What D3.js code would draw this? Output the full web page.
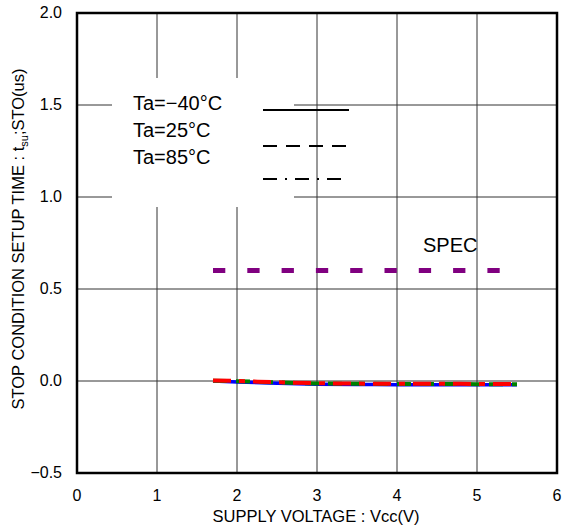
<!DOCTYPE html>
<html>
<head>
<meta charset="utf-8">
<script src="https://cdn.jsdelivr.net/npm/d3@7"></script>
<style>
  body { margin: 0; background: #fff; }
  text { font-family: "Liberation Sans", Arial, sans-serif; fill: #000; }
</style>
</head>
<body>
<div id="chart"></div>
<script>
'use strict'

// supply voltage points (V)
const vcc = [1.7, 2.0, 2.5, 3.0, 3.5, 4.0, 4.5, 5.0, 5.5]
// tsu;STO (us) per temperature
const tBlue = [0.0, -0.005, -0.012, -0.017, -0.019, -0.020, -0.020, -0.020, -0.021]
const tGreen = [0.002, -0.001, -0.008, -0.013, -0.015, -0.016, -0.016, -0.017, -0.018]
const tRed = [0.003, 0.0, -0.007, -0.012, -0.014, -0.015, -0.015, -0.016, -0.017]
const specX = [1.7, 5.5]
const specY = [0.6, 0.6]

const xTicks = [0, 1, 2, 3, 4, 5, 6]
const yTicks = [-0.5, 0, 0.5, 1.0, 1.5, 2.0]
const legendLabels = ['Ta=\u221240\u00b0C', 'Ta=25\u00b0C', 'Ta=85\u00b0C']
const legendDash = [null, '14,9', '14,8,2,8']

const width = 563, height = 529
const margin = { left: 77, right: 6, top: 13, bottom: 56 }

const svg = d3.select('#chart').append('svg')
    .attr('width', width)
    .attr('height', height)

const x = d3.scaleLinear().domain([0, 6]).range([margin.left, width - margin.right])
const y = d3.scaleLinear().domain([-0.5, 2.0]).range([height - margin.bottom, margin.top])

// grid
svg.append('g')
    .selectAll('line')
    .data(xTicks.slice(1, -1))
    .join('line')
    .attr('x1', d => x(d)).attr('x2', d => x(d))
    .attr('y1', y(2.0)).attr('y2', y(-0.5))
    .attr('stroke', '#333').attr('stroke-width', 1)

svg.append('g')
    .selectAll('line')
    .data(yTicks.slice(1, -1))
    .join('line')
    .attr('x1', x(0)).attr('x2', x(6))
    .attr('y1', d => y(d)).attr('y2', d => y(d))
    .attr('stroke', '#333').attr('stroke-width', 1)

// legend backdrop hides the grid behind it
svg.append('rect')
    .attr('x', 112).attr('y', 78)
    .attr('width', 182).attr('height', 129)
    .attr('fill', '#fff')

// spec line
const line = d3.line().x(d => x(d[0])).y(d => y(d[1]))
svg.append('path')
    .attr('d', line(d3.zip(specX, specY)))
    .attr('fill', 'none')
    .attr('stroke', '#800080')
    .attr('stroke-width', 5)
    .attr('stroke-dasharray', '12.3,22')

svg.append('text')
    .attr('x', 423).attr('y', 252)
    .style('font-size', '20px')
    .text('SPEC')

// data curves
const curve = d3.line().x(d => x(d[0])).y(d => y(d[1])).curve(d3.curveMonotoneX)
svg.append('path')
    .attr('d', curve(d3.zip(vcc, tBlue)))
    .attr('fill', 'none').attr('stroke', '#0000ff').attr('stroke-width', 3.5)
svg.append('path')
    .attr('d', curve(d3.zip(vcc, tGreen)))
    .attr('fill', 'none').attr('stroke', '#008000').attr('stroke-width', 4)
    .attr('stroke-dasharray', '14,9')
svg.append('path')
    .attr('d', curve(d3.zip(vcc, tRed)))
    .attr('fill', 'none').attr('stroke', '#ff0000').attr('stroke-width', 4)
    .attr('stroke-dasharray', '18,8,6,8')

// legend
const lg = svg.append('g')
lg.selectAll('text')
    .data(legendLabels)
    .join('text')
    .attr('x', 133)
    .attr('y', (d, i) => 110 + i * 27)
    .style('font-size', '20px')
    .text(d => d)

lg.selectAll('line')
    .data(legendDash)
    .join('line')
    .attr('x1', 263).attr('x2', 349)
    .attr('y1', (d, i) => [110, 146, 179][i])
    .attr('y2', (d, i) => [110, 146, 179][i])
    .attr('stroke', '#000').attr('stroke-width', 2)
    .attr('stroke-dasharray', d => d)

// frame
svg.append('rect')
    .attr('x', x(0)).attr('y', y(2.0))
    .attr('width', x(6) - x(0)).attr('height', y(-0.5) - y(2.0))
    .attr('fill', 'none').attr('stroke', '#000').attr('stroke-width', 2.5)

// tick labels
svg.append('g')
    .selectAll('text')
    .data(xTicks)
    .join('text')
    .attr('x', d => x(d))
    .attr('y', 501)
    .attr('text-anchor', 'middle')
    .style('font-size', '16px')
    .text(d => d)

svg.append('g')
    .selectAll('text')
    .data(yTicks)
    .join('text')
    .attr('x', 62)
    .attr('y', d => y(d) + 5)
    .attr('text-anchor', 'end')
    .style('font-size', '16px')
    .text(d => d3.format('.1f')(d).replace('-', '\u2212'))

// axis titles
svg.append('text')
    .attr('x', 316).attr('y', 522)
    .attr('text-anchor', 'middle')
    .style('font-size', '16.5px')
    .text('SUPPLY VOLTAGE : Vcc(V)')

const yt = svg.append('text')
    .attr('transform', 'translate(24,239) rotate(-90)')
    .attr('text-anchor', 'middle')
    .style('font-size', '16.5px')
yt.append('tspan').text('STOP CONDITION SETUP TIME : t')
yt.append('tspan').attr('dy', 4).style('font-size', '11px').text('su')
yt.append('tspan').attr('dy', -4).text(';STO(us)')
</script>
</body>
</html>
